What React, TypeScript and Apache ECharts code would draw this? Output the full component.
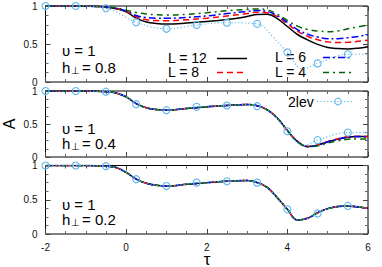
import React, { useEffect, useRef } from "react";
import * as echarts from "echarts";

// shared tau grid for the L curves
const TAU = [-2, -1.5, -1, -0.5, -0.25, 0, 0.25, 0.5, 0.75, 1, 1.5, 2, 2.5, 3, 3.25, 3.5, 3.75, 4, 4.25, 4.5, 4.75, 5, 5.25, 5.5, 5.75, 6];

// panel 1: h = 0.8
const P1_L12 = [1, 1, 0.997, 0.985, 0.965, 0.925, 0.84, 0.79, 0.77, 0.763, 0.775, 0.795, 0.822, 0.862, 0.888, 0.89, 0.835, 0.73, 0.625, 0.555, 0.495, 0.455, 0.44, 0.435, 0.445, 0.465];
const P1_L8 = [1, 1, 0.997, 0.986, 0.967, 0.93, 0.86, 0.82, 0.808, 0.805, 0.818, 0.84, 0.868, 0.9, 0.918, 0.912, 0.86, 0.765, 0.67, 0.6, 0.556, 0.528, 0.52, 0.522, 0.535, 0.55];
const P1_L6 = [1, 1, 0.997, 0.987, 0.97, 0.935, 0.875, 0.848, 0.84, 0.838, 0.85, 0.87, 0.9, 0.928, 0.94, 0.93, 0.872, 0.785, 0.69, 0.628, 0.592, 0.57, 0.57, 0.583, 0.6, 0.622];
const P1_L4 = [1, 1, 0.998, 0.99, 0.975, 0.945, 0.915, 0.895, 0.885, 0.88, 0.89, 0.912, 0.938, 0.955, 0.962, 0.95, 0.892, 0.81, 0.735, 0.69, 0.672, 0.662, 0.672, 0.7, 0.725, 0.75];
const P1_LEV_TAU = [-2, -1.25, -0.5, 0.25, 1.0, 1.75, 2.5, 3.25, 3.63, 4.0, 4.38, 4.75, 5.5, 6];
const P1_LEV = [1, 1, 0.97, 0.786, 0.7, 0.75, 0.78, 0.765, 0.6, 0.39, 0.175, 0.245, 0.364, 0.365];

// panel 2: h = 0.4
const P2_L12 = [1, 1, 1, 0.99, 0.97, 0.91, 0.81, 0.745, 0.72, 0.71, 0.735, 0.76, 0.78, 0.795, 0.778, 0.715, 0.59, 0.4, 0.235, 0.158, 0.18, 0.232, 0.27, 0.3, 0.31, 0.31];
const P2_L8 = [1, 1, 1, 0.99, 0.97, 0.91, 0.81, 0.745, 0.72, 0.71, 0.735, 0.76, 0.78, 0.795, 0.778, 0.715, 0.59, 0.4, 0.235, 0.158, 0.182, 0.236, 0.275, 0.305, 0.312, 0.31];
const P2_L6 = [1, 1, 1, 0.99, 0.97, 0.91, 0.81, 0.745, 0.72, 0.71, 0.735, 0.76, 0.78, 0.795, 0.778, 0.715, 0.59, 0.4, 0.235, 0.158, 0.178, 0.228, 0.27, 0.3, 0.31, 0.305];
const P2_L4 = [1, 1, 1, 0.99, 0.97, 0.91, 0.81, 0.745, 0.72, 0.71, 0.735, 0.76, 0.78, 0.795, 0.778, 0.715, 0.59, 0.4, 0.235, 0.155, 0.17, 0.21, 0.245, 0.268, 0.275, 0.27];
const P2_LEV_TAU = [-2, -1.25, -0.5, -0.25, 0, 0.25, 0.5, 1.0, 1.75, 2.5, 3.0, 3.25, 3.5, 3.75, 4.0, 4.2, 4.4, 4.75, 5.5, 6];
const P2_LEV = [1, 1, 0.99, 0.97, 0.91, 0.8, 0.745, 0.71, 0.76, 0.78, 0.795, 0.77, 0.71, 0.585, 0.39, 0.24, 0.175, 0.255, 0.37, 0.37];

// panel 3: h = 0.2
const P3_L = [1, 1, 1, 0.99, 0.97, 0.9, 0.8, 0.74, 0.71, 0.7, 0.725, 0.75, 0.77, 0.78, 0.75, 0.68, 0.53, 0.36, 0.205, 0.23, 0.31, 0.37, 0.4, 0.41, 0.395, 0.375];
const P3_LEV_TAU = [-2, -1.25, -0.5, -0.25, 0, 0.25, 0.5, 1, 1.75, 2.5, 3, 3.25, 3.5, 3.75, 4, 4.25, 4.5, 4.75, 5, 5.5, 6];
const P3_LEV = [1, 1, 0.99, 0.97, 0.9, 0.8, 0.74, 0.7, 0.75, 0.77, 0.78, 0.75, 0.68, 0.53, 0.36, 0.205, 0.23, 0.3, 0.37, 0.41, 0.375];

const MARK_TAU = [-2, -1.25, -0.5, 0.25, 1, 1.75, 2.5, 3.25, 4, 4.75, 5.5];
const X_TICKS = [-2, 0, 2, 4, 6];
const PANEL_LABELS = [
  { u: "υ = 1", h: "= 0.8" },
  { u: "υ = 1", h: "= 0.4" },
  { u: "υ = 1", h: "= 0.2" },
];
const LEGEND_NAMES = ["L = 12", "L = 8", "L = 6", "L = 4", "2lev"];

const FONT = "'Liberation Sans', Arial, Helvetica, sans-serif";
const LEV_COLOR = "#5cb8ee";

const STYLES = [
  { color: "#000000", type: "solid" as any, width: 1.5 },
  { color: "#ff0000", type: [6, 4] as any, width: 1.5 },
  { color: "#0000ff", type: [7, 3, 2, 3] as any, width: 1.5 },
  { color: "#006400", type: [6, 4, 2, 4] as any, width: 1.5 },
];

const GRIDS = [
  { top: 6, height: 76 },
  { top: 91, height: 66 },
  { top: 165.5, height: 68.5 },
];

export default function App() {
  const ref = useRef<HTMLDivElement>(null);
  useEffect(() => {
    const chart = echarts.init(ref.current!, null, { renderer: "svg" });
    const left = 45.5;
    const width = 322.5;

    const xAxes: any[] = [];
    const yAxes: any[] = [];
    GRIDS.forEach((g, i) => {
      ["bottom", "top"].forEach((pos) => {
        xAxes.push({
          type: "value",
          gridIndex: i,
          position: pos,
          min: -2,
          max: 6,
          interval: 2,
          axisLine: { show: false, onZero: false },
          axisTick: { show: true, inside: true, length: 5, lineStyle: { color: "#444", width: 1 } },
          minorTick: { show: true, splitNumber: 4, length: 3, lineStyle: { color: "#666", width: 1 } },
          splitLine: { show: false },
          axisLabel: {
            show: i === 2 && pos === "bottom",
            fontSize: 10,
            fontFamily: FONT,
            color: "#111",
            margin: 8,
            formatter: (v: number) => (X_TICKS.includes(v) ? String(v) : ""),
          },
        });
      });
      ["left", "right"].forEach((pos) => {
        yAxes.push({
          type: "value",
          gridIndex: i,
          position: pos,
          min: 0,
          max: 1,
          interval: 0.5,
          axisLine: { show: false, onZero: false },
          axisTick: { show: true, inside: true, length: 5, lineStyle: { color: "#444", width: 1 } },
          minorTick: { show: true, splitNumber: 4, length: 3, lineStyle: { color: "#666", width: 1 } },
          splitLine: { show: false },
          axisLabel: {
            show: pos === "left",
            fontSize: 10,
            fontFamily: FONT,
            color: "#111",
            margin: 8,
            formatter: (v: number) => String(v),
          },
        });
      });
    });

    const series: any[] = [];
    const panelL = [
      [P1_L12, P1_L8, P1_L6, P1_L4],
      [P2_L12, P2_L8, P2_L6, P2_L4],
      [P3_L, P3_L, P3_L, P3_L],
    ];
    const panelLev = [
      [P1_LEV_TAU, P1_LEV],
      [P2_LEV_TAU, P2_LEV],
      [P3_LEV_TAU, P3_LEV],
    ];
    panelL.forEach((curves, p) => {
      curves.forEach((vals, k) => {
        series.push({
          type: "line",
          name: LEGEND_NAMES[k],
          xAxisIndex: p * 2,
          yAxisIndex: p * 2,
          data: TAU.map((t, i) => [t, vals[i]]),
          smooth: 0.4,
          symbol: "none",
          showSymbol: false,
          silent: true,
          z: 2 + k,
          lineStyle: STYLES[k],
        });
      });
      const [lt, lv] = panelLev[p];
      series.push({
        type: "line",
        name: LEGEND_NAMES[4],
        xAxisIndex: p * 2,
        yAxisIndex: p * 2,
        data: lt.map((t, i) => ({
          value: [t, lv[i]],
          symbol: MARK_TAU.includes(t) ? "circle" : "none",
        })),
        smooth: 0.4,
        showSymbol: true,
        symbolSize: 7,
        silent: true,
        z: 10,
        lineStyle: { color: LEV_COLOR, width: 1.1, type: [1.2, 2.2] },
        itemStyle: { color: "rgba(0,0,0,0)", borderColor: LEV_COLOR, borderWidth: 1.1 },
      });
    });

    const graphic: any[] = [];
    const txt = (text: string, x: number, y: number, size: number, align = "left", extra: any = {}) => ({
      type: "text",
      x,
      y,
      silent: true,
      ...extra,
      style: { text, fontSize: size, fontFamily: FONT, fill: "#000", align, verticalAlign: "middle" },
    });
    const uY = [50, 128, 204.5];
    const hY = [67, 143, 219];
    PANEL_LABELS.forEach((lab, i) => {
      graphic.push(txt(lab.u, 62, uY[i], 15));
      graphic.push(txt("h", 62, hY[i], 15));
      graphic.push(txt("⊥", 70.5, hY[i] + 3, 10));
      graphic.push(txt(lab.h, 82, hY[i], 15));
    });
    // legend panel 1
    const legendPos = [
      { tx: 168, lx: 217, y: 58 },
      { tx: 168, lx: 217, y: 72 },
      { tx: 275, lx: 323, y: 57 },
      { tx: 275, lx: 323, y: 72 },
    ];
    legendPos.forEach((lp, k) => {
      graphic.push(txt(LEGEND_NAMES[k], lp.tx, lp.y, 14));
      graphic.push({
        type: "line",
        silent: true,
        shape: { x1: lp.lx, y1: lp.y + 0.5, x2: lp.lx + 30, y2: lp.y + 0.5 },
        style: {
          stroke: STYLES[k].color,
          lineWidth: 1.5,
          lineDash: Array.isArray(STYLES[k].type) ? STYLES[k].type : null,
        },
      });
    });
    // 2lev legend panel 2
    graphic.push(txt(LEGEND_NAMES[4], 288, 102, 14));
    graphic.push({
      type: "line",
      silent: true,
      shape: { x1: 317, y1: 101.5, x2: 352, y2: 101.5 },
      style: { stroke: LEV_COLOR, lineWidth: 1.1, lineDash: [1.2, 2.2] },
    });
    graphic.push({
      type: "circle",
      silent: true,
      shape: { cx: 338, cy: 101.5, r: 3.3 },
      style: { fill: "none", stroke: LEV_COLOR, lineWidth: 1.1 },
    });
    // axis names
    graphic.push(txt("A", 9, 124, 16, "center", { rotation: Math.PI / 2 }));
    graphic.push(txt("τ", 207, 259, 17, "center"));

    chart.setOption({
      animation: false,
      backgroundColor: "#fff",
      grid: GRIDS.map((g) => ({
        left,
        width,
        top: g.top,
        height: g.height,
        show: true,
        borderColor: "#000",
        borderWidth: 1,
        backgroundColor: "transparent",
      })),
      xAxis: xAxes,
      yAxis: yAxes,
      series,
      graphic,
    });
    return () => chart.dispose();
  }, []);
  return <div ref={ref} style={{ position: "absolute", left: 0, top: 0, width: 382, height: 267 }} />;
}
